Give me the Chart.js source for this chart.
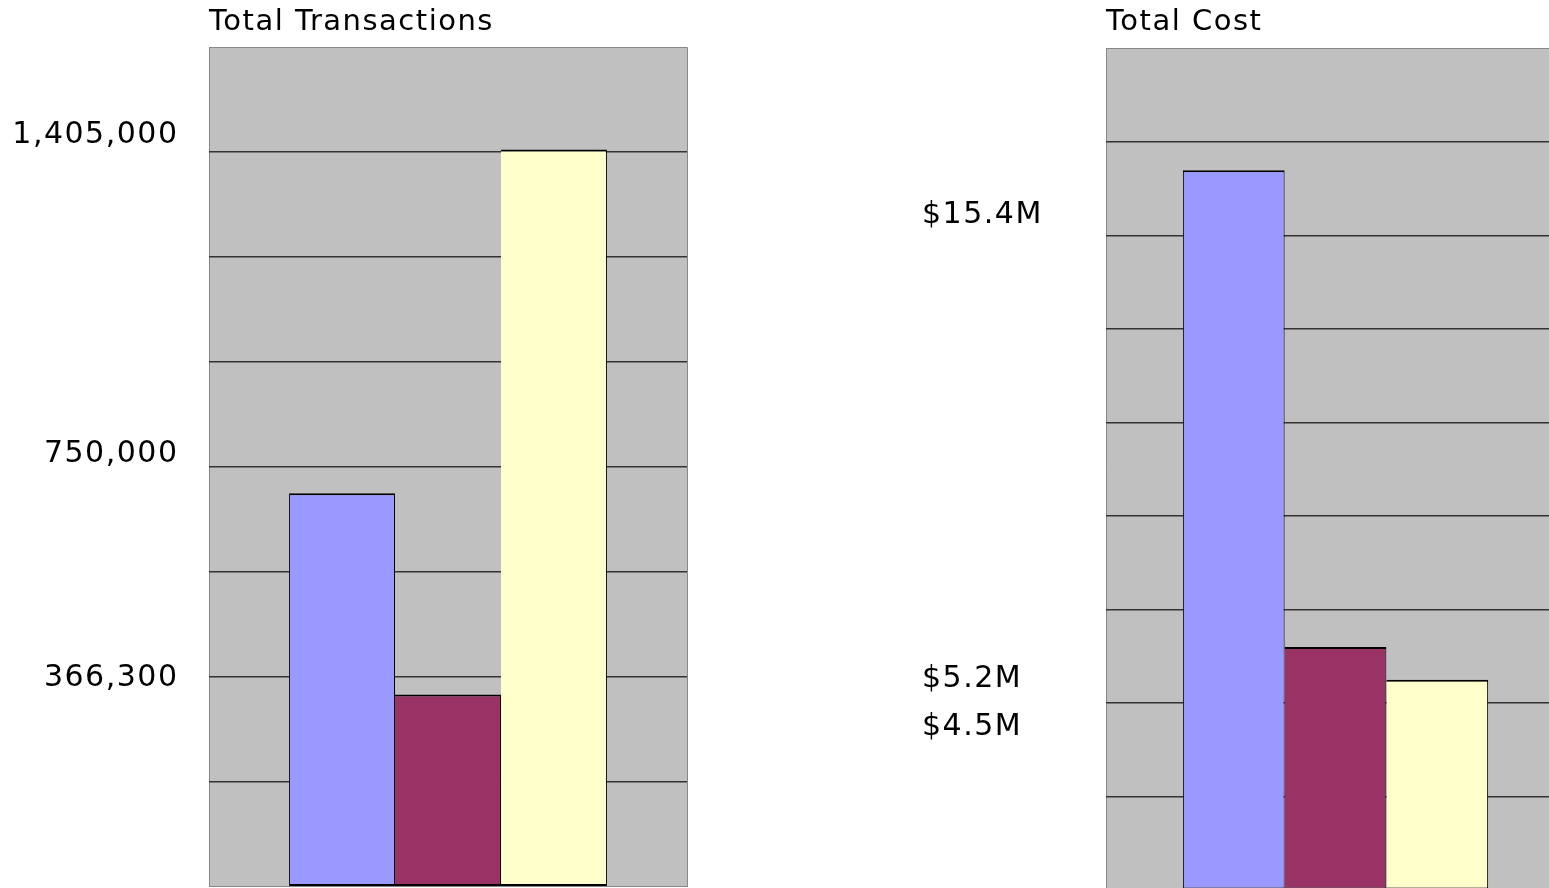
<!DOCTYPE html>
<html>
<head>
<meta charset="utf-8">
<script src="https://cdn.jsdelivr.net/npm/chart.js@4"></script>
<style>
  body { margin: 0; background: #fff; overflow: hidden; width: 1549px; height: 888px; position: relative; }
  canvas { position: absolute; top: 0; }
  #txChart { left: 0; }
  #costChart { left: 922px; }
</style>
</head>
<body>
<canvas id="txChart" width="690" height="888"></canvas>
<canvas id="costChart" width="645" height="892"></canvas>
<script>
// Data
const categories = [''];
const seriesNames = ['Series 1', 'Series 2', 'Series 3'];
const txValues = [750000, 366300, 1405000];
const costValues = [15400000, 5200000, 4500000];

// value labels shown beside the axis, and the value height each one sits at
const txLabels = ['366,300', '750,000', '1,405,000'];
const txLabelAt = [396800, 824400, 1432800];
const costLabels = ['$4.5M', '$5.2M', '$15.4M'];
const costLabelAt = [3490000, 4520000, 14440000];

const txMax = 1600000, txStep = 200000;
const costMax = 18000000, costStep = 2000000;

const colors = ['#9999FF', '#993366', '#FFFFCC'];

Chart.defaults.font.family = '"DejaVu Sans", Verdana, sans-serif';

// grey plot area + slight letter spacing like the original
const plotBg = {
  id: 'plotBg',
  beforeUpdate(chart) { chart.ctx.letterSpacing = '1.5px'; },
  beforeDraw(chart) {
    const { ctx, chartArea: a } = chart;
    ctx.letterSpacing = '1.5px';
    ctx.save();
    ctx.fillStyle = '#C0C0C0';
    ctx.fillRect(a.left, a.top, a.right - a.left, a.bottom - a.top);
    ctx.restore();
  }
};

function makeChart(id, values, max, step, labels, labelAt, opts) {
  return new Chart(document.getElementById(id), {
    type: 'bar',
    data: {
      labels: categories,
      datasets: values.map((v, i) => ({
        label: seriesNames[i],
        data: [v],
        backgroundColor: colors[i],
        borderColor: '#000',
        borderWidth: { top: 2, right: 1, bottom: 2, left: i === 0 ? 1 : 0 },
        borderSkipped: false,
        categoryPercentage: 0.665,
        barPercentage: 1
      }))
    },
    options: {
      responsive: false,
      animation: false,
      layout: { padding: { left: 0, right: opts.padRight, top: 0, bottom: opts.padBottom } },
      plugins: {
        legend: { display: false },
        tooltip: { enabled: false },
        title: {
          display: true, text: opts.title, align: 'start', fullSize: false, color: '#000',
          font: { size: 29, weight: 'normal' },
          padding: { top: 5, bottom: opts.titleGap }
        }
      },
      scales: {
        x: {
          ticks: { display: false },
          grid: { color: '#888', drawTicks: false, offset: true },
          border: { color: '#888' }
        },
        y: {
          min: 0, max: max,
          ticks: { display: false, stepSize: step },
          grid: {
            drawTicks: false,
            lineWidth: c => (c.tick.value === 0 || c.tick.value === max) ? 1 : 1.5,
            color: c => (c.tick.value === 0 || c.tick.value === max) ? '#888' : '#333'
          },
          border: { display: false },
          afterFit: s => { s.width = 0; s.paddingTop = 0; s.paddingBottom = 0; }
        },
        yl: {
          position: 'left', min: 0, max: max,
          grid: { display: false, drawTicks: false },
          border: { display: false },
          afterBuildTicks: s => { s.ticks = labelAt.map(v => ({ value: v })); },
          ticks: {
            autoSkip: false, color: '#000', font: { size: 30 },
            padding: opts.tickPad, crossAlign: opts.align,
            callback: (v, i) => labels[i]
          },
          afterFit: s => { s.width = opts.axisWidth; s.paddingTop = 0; s.paddingBottom = 0; }
        }
      }
    },
    plugins: [plotBg]
  });
}

makeChart('txChart', txValues, txMax, txStep, txLabels, txLabelAt, {
  title: 'Total Transactions', padRight: 3, padBottom: 1.5, titleGap: 7.5,
  tickPad: 30.5, align: 'near', axisWidth: 209
});

makeChart('costChart', costValues, costMax, costStep, costLabels, costLabelAt, {
  title: 'Total Cost', padRight: 2, padBottom: 2, titleGap: 8.9,
  tickPad: 0, align: 'far', axisWidth: 184
});
</script>
</body>
</html>
